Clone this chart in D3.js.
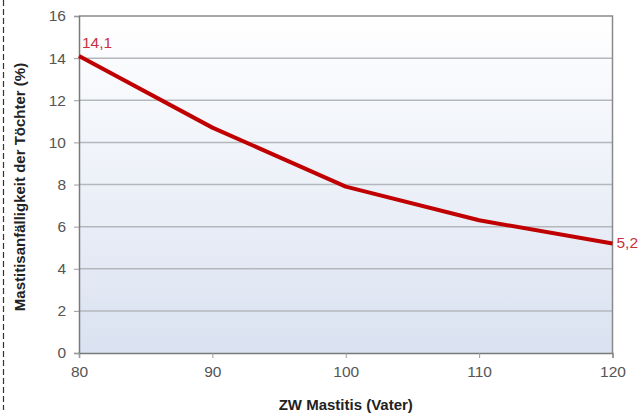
<!DOCTYPE html>
<html><head><meta charset="utf-8">
<script src="https://cdn.jsdelivr.net/npm/d3@7"></script>
<style>body{margin:0;background:#fff;}svg{display:block;font-family:"Liberation Sans",Arial,sans-serif;}</style>
</head><body>
<svg id="c" width="642" height="413"></svg>
<script>
const xValues = [80, 90, 100, 110, 120];
const yValues = [14.1, 10.7, 7.9, 6.3, 5.2];
const xTicks = [80, 90, 100, 110, 120];
const yTicks = [0, 2, 4, 6, 8, 10, 12, 14, 16];
const firstLabel = "14,1", lastLabel = "5,2";
const xTitle = "ZW Mastitis (Vater)";
const yTitle = "Mastitisanfälligkeit der Töchter (%)";

const svg = d3.select("#c");
const m = {l:79, r:612.5, t:16, b:353};
const x = d3.scaleLinear().domain([80,120]).range([m.l, m.r]);
const y = d3.scaleLinear().domain([0,16]).range([m.b, m.t]);

const defs = svg.append("defs");
const g = defs.append("linearGradient").attr("id","bg").attr("x1",0).attr("y1",0).attr("x2",0).attr("y2",1);
g.append("stop").attr("offset","0%").attr("stop-color","#ffffff");
g.append("stop").attr("offset","100%").attr("stop-color","#dae2f1");

svg.append("line").attr("x1",3.5).attr("x2",3.5).attr("y1",0).attr("y2",410)
  .attr("stroke","#333").attr("stroke-width",1.2).attr("stroke-dasharray","6,3");

svg.append("rect").attr("x",m.l).attr("y",m.t).attr("width",m.r-m.l).attr("height",m.b-m.t).attr("fill","url(#bg)");

svg.append("g").selectAll("line").data(yTicks.filter(d=>d>0&&d<16)).join("line")
  .attr("x1",m.l).attr("x2",m.r).attr("y1",d=>y(d)).attr("y2",d=>y(d))
  .attr("stroke","#b4b8bd").attr("stroke-width",1.5);

svg.append("path").attr("d",`M${m.l},${m.t}H${m.r}V${m.b}`).attr("fill","none").attr("stroke","#8a8a8a").attr("stroke-width",1.5);

const yAxis = d3.axisLeft(y).tickValues(yTicks).tickSize(5).tickPadding(8).tickFormat(d3.format("d"));
const ya = svg.append("g").attr("transform",`translate(${m.l},0)`).call(yAxis);
const xAxis = d3.axisBottom(x).tickValues(xTicks).tickSize(5).tickPadding(8).tickFormat(d3.format("d"));
const xa = svg.append("g").attr("transform",`translate(0,${m.b})`).call(xAxis);
[ya,xa].forEach(a=>{
  a.select(".domain").attr("stroke","#7a7a7a").attr("stroke-width",1.5);
  a.selectAll(".tick line").attr("stroke","#9a9a9a");
  a.selectAll(".tick text").attr("fill","#555").attr("font-size",15.5).attr("font-family","Liberation Sans, Arial, sans-serif");
});

const line = d3.line().x((d,i)=>x(xValues[i])).y(d=>y(d));
svg.append("path").datum(yValues).attr("d",line).attr("fill","none")
  .attr("stroke","#c00000").attr("stroke-width",4).attr("stroke-linejoin","round");

svg.append("text").attr("x",x(xValues[0])+3).attr("y",y(yValues[0])-8).text(firstLabel)
  .attr("fill","#c8323c").attr("font-size",15.5);
svg.append("text").attr("x",x(xValues[4])+4).attr("y",y(yValues[4])+5).text(lastLabel)
  .attr("fill","#c8323c").attr("font-size",15.5);

svg.append("text").attr("x",(m.l+m.r)/2).attr("y",410).attr("text-anchor","middle")
  .attr("font-weight","bold").attr("font-size",15).attr("fill","#222").text(xTitle);
svg.append("text").attr("transform",`translate(25,187) rotate(-90)`).attr("text-anchor","middle")
  .attr("font-weight","bold").attr("font-size",15).attr("fill","#222").text(yTitle);
</script>
</body></html>
